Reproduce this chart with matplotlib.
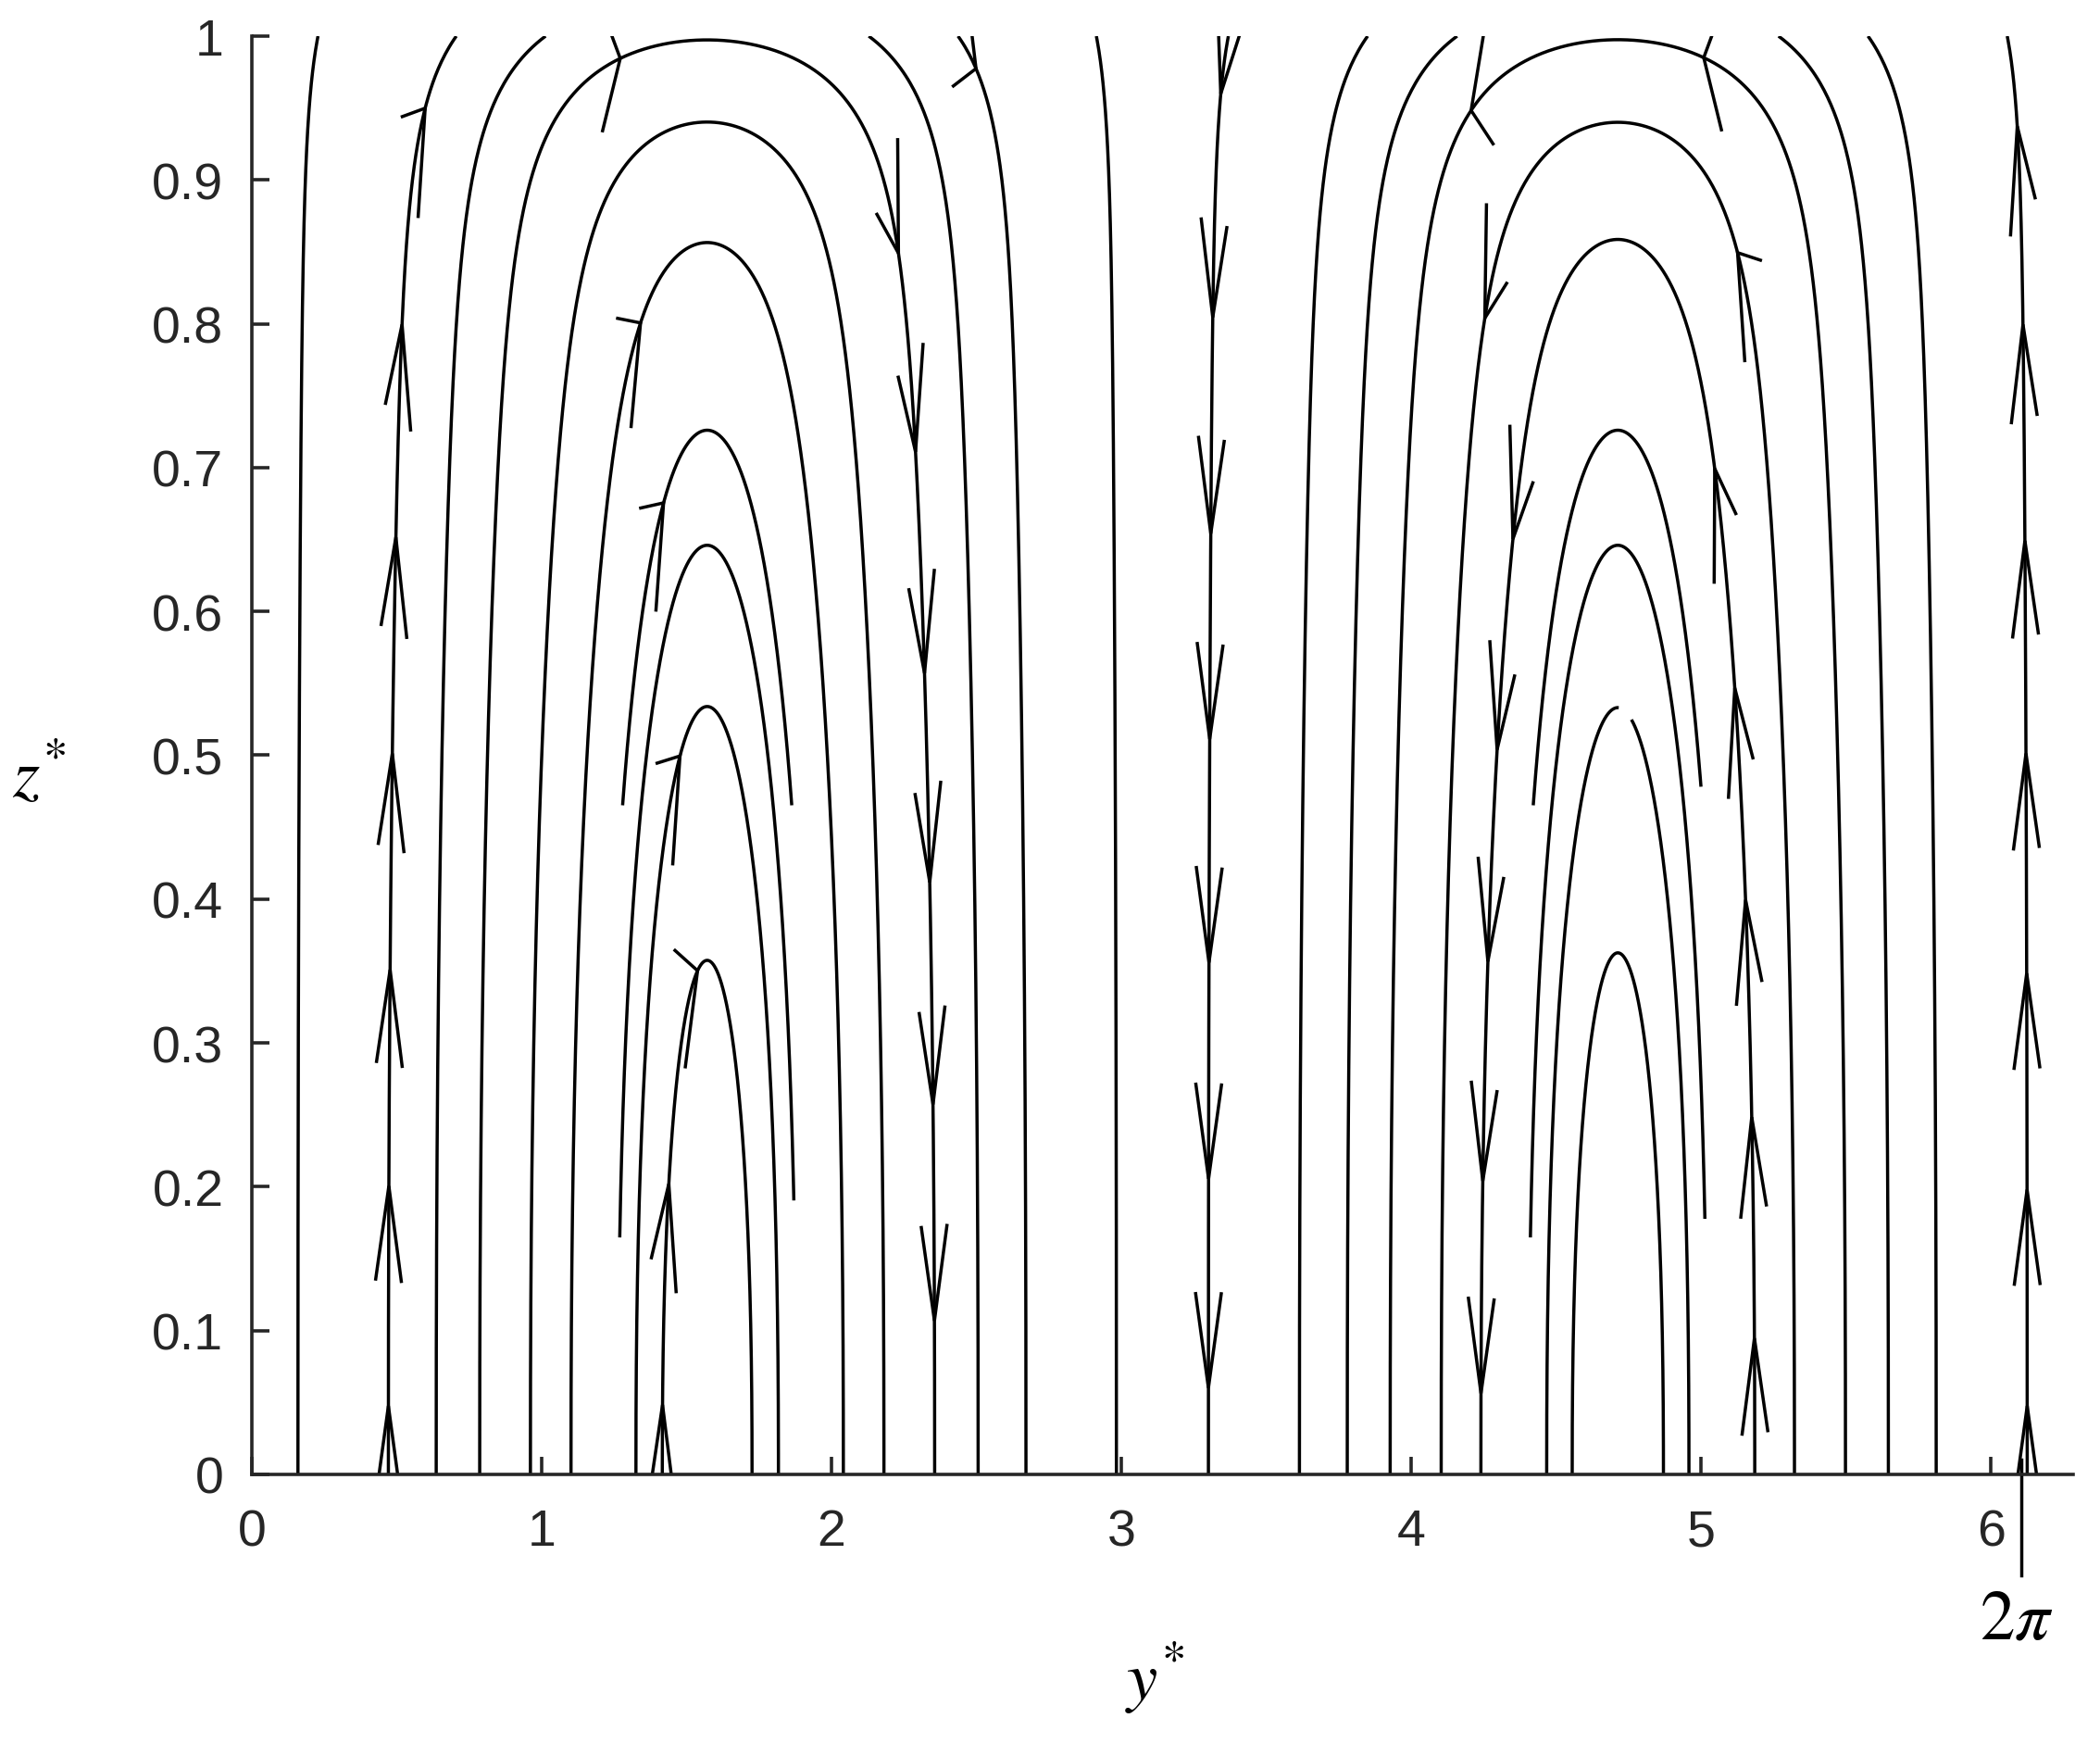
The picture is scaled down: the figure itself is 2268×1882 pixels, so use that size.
import numpy as np
import matplotlib.pyplot as plt

plt.rcParams['font.family'] = ['Liberation Sans', 'DejaVu Sans']
plt.rcParams['mathtext.fontset'] = 'stix'

# depth profile g(z) of the vertical velocity, w = cos(y) g(z), fitted to the arch heights
prof_a, prof_n = 0.1255, 2.286     # smooth interior decay
prof_b, prof_k = 0.1745, 15.0      # thin layer just below the top

# where each streamline leaves z* = 0, left cell (0..pi) and right cell (pi..2pi)
left_bases = [0.159, 0.471, 0.636, 0.786, 0.961, 1.101, 1.325, 1.416]
right_bases = [3.300, 3.614, 3.779, 3.927, 4.103, 4.240, 4.467, 4.555]

# arches that never reach the floor: apex height, lowest z of left leg, lowest z of right leg
left_loops = [(0.646, 0.164, 0.190), (0.726, 0.465, 0.465)]
right_loops = [(0.646, 0.164, 0.177), (0.726, 0.465, 0.478)]

# short break near the apex of one right-cell arch: its base, then the y range left out
gap_base, gap_y0, gap_y1 = 4.467, 4.716, 4.759

# arrow tips (y*, z*)
left_arrows = [
    (0.474, 0.048), (0.478, 0.200), (0.483, 0.350), (0.488, 0.500),
    (0.496, 0.652), (0.520, 0.800), (0.594, 0.951),
    (1.416, 0.048), (1.438, 0.202), (1.530, 0.351),
    (1.468, 0.500), (1.413, 0.676), (1.352, 0.800), (1.260, 0.990),
    (2.224, 0.849), (2.289, 0.711), (2.328, 0.557), (2.347, 0.412),
    (2.352, 0.258), (2.358, 0.107),
    (2.502, 0.979),
]
right_arrows = [
    (3.336, 0.959), (3.310, 0.805), (3.305, 0.655), (3.303, 0.511),
    (3.302, 0.355), (3.301, 0.206), (3.300, 0.060),
    (4.188, 0.951), (4.263, 0.803),
    (4.353, 0.650), (4.298, 0.504), (4.265, 0.356), (4.245, 0.205), (4.240, 0.056),
    (5.025, 0.992), (5.121, 0.849),
    (5.046, 0.699), (5.126, 0.547), (5.158, 0.399), (5.180, 0.248), (5.185, 0.095),
    (6.060, 0.937), (6.100, 0.800), (6.110, 0.649), (6.115, 0.500),
    (6.120, 0.348), (6.120, 0.199), (6.122, 0.048),
]

x_ticks = [0, 1, 2, 3, 4, 5, 6]
z_ticks = [0, 0.1, 0.2, 0.3, 0.4, 0.5, 0.6, 0.7, 0.8, 0.9, 1]
z_labels = ['0', '0.1', '0.2', '0.3', '0.4', '0.5', '0.6', '0.7', '0.8', '0.9', '1']
mark_2pi = 6.105   # where the 2pi marker was put under the axis

ARROW_LEN = 0.079
ARROW_ANG = np.deg2rad(34)
LW = 2.5


def g(z):
    return 1 - prof_a * z**prof_n - prof_b * np.exp(-prof_k * (1 - z))


def dg(z):
    return -prof_a * prof_n * z**(prof_n - 1) - prof_b * prof_k * np.exp(-prof_k * (1 - z))


zz = np.linspace(0, 1, 20001)
gz = g(zz)


def ginv(v):
    return np.interp(v, gz[::-1], zz[::-1])


def streamline(c, yc, z_left=0.0, z_right=0.0):
    # psi = |sin y| g(z) = c, both legs around the cell centre yc
    if c < g(1.0):
        z = np.linspace(0, 1, 400)
        d = np.arccos(c / g(z))
        return [(yc - d, z), (yc + d, z)]
    za = ginv(c)
    u = np.linspace(0, 1, 600)
    z = za * (1 - u**2)
    d = np.arccos(np.clip(c / g(z), -1, 1))
    y = np.concatenate([yc - d[::-1], yc + d[1:]])
    zl = np.concatenate([z[::-1], z[1:]])
    y[(y < yc) & (zl < z_left)] = np.nan
    y[(y > yc) & (zl < z_right)] = np.nan
    return [(y, zl)]


fig = plt.figure(figsize=(22.68, 18.83), dpi=100)
ax = fig.add_axes([0.11993, 0.15401, 0.86728, 0.82475])
ax.set_xlim(0, 2 * np.pi)
ax.set_ylim(0, 1)

paths = []
for yc, bases, loops in [(np.pi / 2, left_bases, left_loops),
                         (3 * np.pi / 2, right_bases, right_loops)]:
    for b in bases:
        for y, z in streamline(np.cos(yc - b), yc):
            y = y.copy()
            if b == gap_base:
                y[(y > gap_y0) & (y < gap_y1)] = np.nan
            paths.append((y, z))
    for apex, zl, zr in loops:
        paths.extend(streamline(g(apex), yc, zl, zr))

for y, z in paths:
    ax.plot(y, z, color='k', lw=LW, solid_capstyle='butt')

# arrows: V heads snapped onto the nearest streamline, pointing along the flow
pts = np.concatenate([np.column_stack(p) for p in paths])
pts = pts[~np.isnan(pts).any(axis=1)]
pix = ax.transData.transform(pts)
for ya, za in left_arrows + right_arrows:
    p = ax.transData.transform((ya, za))
    i = np.argmin(((pix - p) ** 2).sum(axis=1))
    ty, tz = pts[i]
    uy = -np.sin(ty) * dg(tz)
    uz = np.cos(ty) * g(tz)
    n = np.hypot(uy, uz)
    by, bz = -uy / n, -uz / n
    barbs = []
    for s in (1, -1):
        ca, sa = np.cos(s * ARROW_ANG), np.sin(s * ARROW_ANG)
        barbs.append((ty + ARROW_LEN * (ca * by - sa * bz), tz + ARROW_LEN * (sa * by + ca * bz)))
    ax.plot([barbs[0][0], ty, barbs[1][0]], [barbs[0][1], tz, barbs[1][1]],
            color='k', lw=LW, solid_joinstyle='miter')

axis_col = '#262626'
for side in ['top', 'right']:
    ax.spines[side].set_visible(False)
for side in ['left', 'bottom']:
    ax.spines[side].set_color(axis_col)
    ax.spines[side].set_linewidth(2.6)
ax.set_xticks(x_ticks)
ax.set_xticklabels([str(t) for t in x_ticks])
ax.set_yticks(z_ticks)
ax.set_yticklabels(z_labels)
ax.tick_params(direction='in', length=14, width=2.6, colors=axis_col, labelsize=40)
ax.tick_params(axis='y', pad=22)
ax.tick_params(axis='x', pad=26)

ax.plot([mark_2pi, mark_2pi], [0.01, -0.07], color='k', lw=LW, clip_on=False)
fig.text(0.9603, 0.0706, r'$2\pi$', fontsize=54, ha='center', va='center')
fig.text(0.550, 0.0377, r'$y^{*}$', fontsize=54, ha='center', va='center')
fig.text(0.0185, 0.5544, r'$z^{*}$', fontsize=54, ha='center', va='center')

fig.savefig('out.png', dpi=100)
